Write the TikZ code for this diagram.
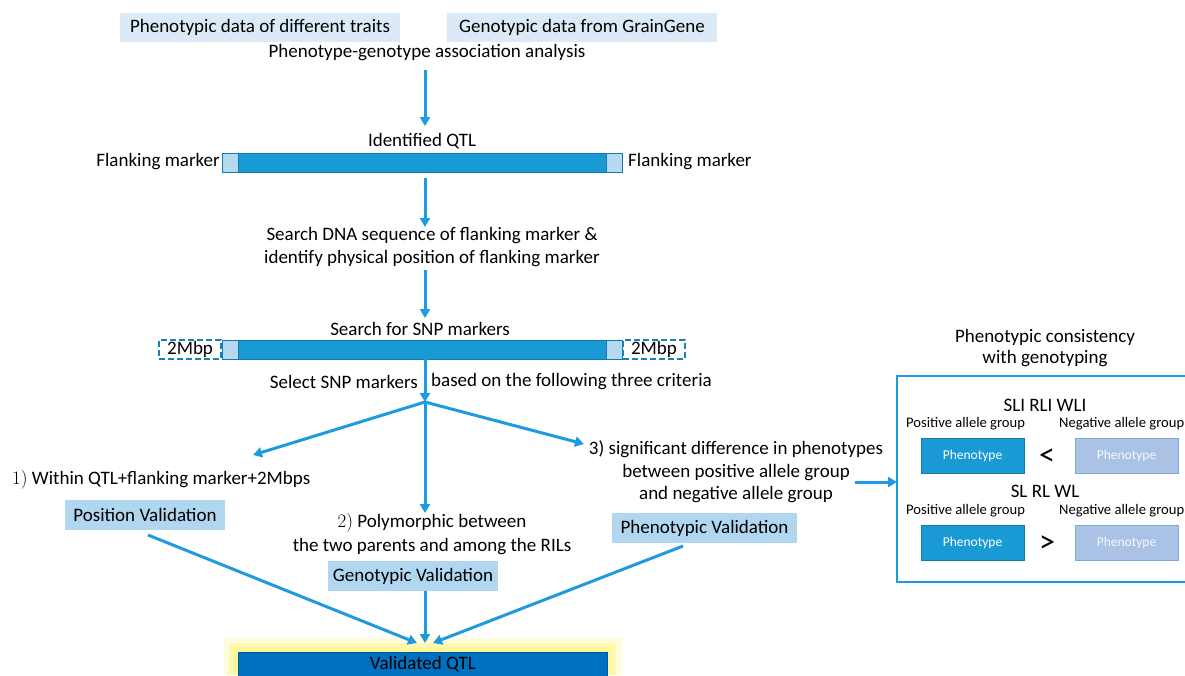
\documentclass[tikz,border=0pt]{standalone}
\usepackage{fontspec}
\setmainfont{Carlito}
\usetikzlibrary{arrows.meta}
\definecolor{arr}{HTML}{1E9BE0}
\definecolor{barblue}{HTML}{1A9AD5}
\definecolor{lightend}{HTML}{B4D9F0}
\definecolor{topfill}{HTML}{DCEAF7}
\definecolor{valfill}{HTML}{B0D7EF}
\definecolor{darkq}{HTML}{0070C0}
\definecolor{negfill}{HTML}{AAC2E6}
\definecolor{negborder}{HTML}{7FA6D9}
\definecolor{glow}{HTML}{FFF59A}
\tikzset{
  txt/.style={font=\fontsize{19}{22}\selectfont, inner sep=0pt},
  small/.style={font=\fontsize{14.6}{17}\selectfont, inner sep=0pt},
  topbox/.style={fill=topfill, draw=none, inner sep=0pt, minimum height=29pt, font=\fontsize{19}{22}\selectfont},
  valbox/.style={fill=valfill, draw=none, inner sep=0pt, minimum height=30pt, font=\fontsize{19}{22}\selectfont},
  flow/.style={draw=arr, line width=3pt, -{Triangle[length=9pt,width=10pt]}},
  posbox/.style={fill=barblue, draw=barblue!80!black, line width=0.6pt, minimum width=103pt, minimum height=35pt, text=white, font=\fontsize{13.5}{14}\selectfont},
  negbox/.style={fill=negfill, draw=negborder, line width=1pt, minimum width=103pt, minimum height=35pt, text=white!90!negfill, font=\fontsize{13.5}{14}\selectfont},
  dashbox/.style={draw=barblue!85!black, dashed, dash pattern=on 6pt off 3pt, line width=1.3pt, inner sep=0pt, minimum width=62pt, minimum height=19pt, font=\fontsize{19}{22}\selectfont},
}
\begin{document}
\begin{tikzpicture}[x=1pt,y=-1pt]
\useasboundingbox (0,0) rectangle (1185,675);
% top boxes
\node[topbox, minimum width=280pt] (pheno) at (260,27.5) {Phenotypic data of different traits};
\node[topbox, minimum width=270pt] (geno) at (582,27.5) {Genotypic data from GrainGene};
\node[txt] (assoc) at (427,53) {Phenotype-genotype association analysis};
\coordinate (a1s) at (425,70);
\coordinate (a1e) at (425,126);
\draw[flow] (a1s) -- (a1e);
% identified QTL
\node[txt] (idq) at (422,141) {Identified QTL};
\node[fill=barblue, draw=barblue!80!black, line width=0.6pt, minimum width=400pt, minimum height=19pt, inner sep=0pt] (bar1) at (422,162.5) {};
\node[fill=lightend, draw=barblue!80!black, line width=0.6pt, minimum width=16pt, minimum height=19pt, inner sep=0pt, anchor=west] (b1l) at (bar1.west) {};
\node[fill=lightend, draw=barblue!80!black, line width=0.6pt, minimum width=16pt, minimum height=19pt, inner sep=0pt, anchor=east] (b1r) at (bar1.east) {};
\node[txt, anchor=east] (fl) at (220,162) {Flanking marker};
\node[txt, anchor=west] (fr) at (628,162) {Flanking marker};
\coordinate (a2s) at (425,178);
\coordinate (a2e) at (425,227);
\draw[flow] (a2s) -- (a2e);
\node[txt, align=center, font=\fontsize{19}{23}\selectfont] (search) at (432,247.5) {Search DNA sequence of flanking marker \&\\identify physical position of flanking marker};
\coordinate (a3s) at (425,270);
\coordinate (a3e) at (425,318);
\draw[flow] (a3s) -- (a3e);
% SNP bar
\node[txt] (snp) at (420,329) {Search for SNP markers};
\node[fill=barblue, draw=barblue!80!black, line width=0.6pt, minimum width=400pt, minimum height=19pt, inner sep=0pt] (bar2) at (422,349.5) {};
\node[fill=lightend, draw=barblue!80!black, line width=0.6pt, minimum width=16pt, minimum height=19pt, inner sep=0pt, anchor=west] (b2l) at (bar2.west) {};
\node[fill=lightend, draw=barblue!80!black, line width=0.6pt, minimum width=16pt, minimum height=19pt, inner sep=0pt, anchor=east] (b2r) at (bar2.east) {};
\node[dashbox, anchor=east] (mbl) at (bar2.west) {2Mbp};
\node[dashbox, anchor=west] (mbr) at (bar2.east) {2Mbp};
\node[txt, anchor=east] (sel) at (418,382) {Select SNP markers};
\node[txt, anchor=west] (based) at (431,382) {based on the following three criteria};
\coordinate (split) at (425,402);
\draw[flow] (bar2.south -| split) -- (split);
% three criteria
\node[txt, anchor=west] (c1) at (12,480) {{\fontspec{Latin Modern Roman}1)} Within QTL+flanking marker+2Mbps};
\node[valbox, minimum width=160pt] (posv) at (145,515) {Position Validation};
\node[txt, align=center, font=\fontsize{19}{24}\selectfont] (c2) at (432,534) {{\fontspec{Latin Modern Roman}2)} Polymorphic between\\the two parents and among the RILs};
\node[valbox, minimum width=170pt] (genv) at (413,576) {Genotypic Validation};
\node[txt, align=center, font=\fontsize{19}{22.5}\selectfont] (c3) at (736,472) {3) significant difference in phenotypes\\between positive allele group\\and negative allele group};
\node[valbox, minimum width=185pt] (phev) at (704.5,528) {Phenotypic Validation};
\coordinate (e1) at (253,455);
\coordinate (e2) at (425,513);
\coordinate (e3) at (584,444);
\draw[flow] (split) -- (e1);
\draw[flow] (split) -- (e2);
\draw[flow] (split) -- (e3);
% validated QTL
\fill[glow, opacity=0.35] (224,638) rectangle (622,675);
\fill[glow, opacity=0.6] (229,643) rectangle (616,675);
\fill[glow] (233,647) rectangle (612,675);
\node[fill=darkq, draw=darkq!80!black, line width=0.6pt, minimum width=369pt, minimum height=24pt, inner sep=0pt, anchor=north west, font=\fontsize{19}{22}\selectfont] (valq) at (238,652) {\raisebox{-2pt}{Validated QTL}};
\coordinate (v1) at (417,643);
\coordinate (v2) at (425,643);
\coordinate (v3) at (433,643);
\coordinate (pv) at (148,535);
\coordinate (phv) at (683,546);
\draw[flow] (pv) -- (v1);
\draw[flow] (genv.south -| v2) -- (v2);
\draw[flow] (phv) -- (v3);
% right panel
\node[txt, align=center, font=\fontsize{19}{21}\selectfont] (ptitle) at (1045,348.5) {Phenotypic consistency\\with genotyping};
\draw[draw=arr, line width=2.4pt] (1195,376) -- (897,376) -- (897,582) -- (1195,582);
\coordinate (panelw) at (897,482);
\coordinate (c3e) at (855,482);
\draw[flow] (c3e) -- (panelw);
\node[txt] (g1) at (1045,405) {SLI RLI WLI};
\node[small, anchor=west] (p1) at (906,424) {Positive allele group};
\node[small, anchor=west] (n1) at (1059,424) {Negative allele group};
\node[posbox] (pb1) at (972.5,455.5) {Phenotype};
\node[negbox] (nb1) at (1126.5,455.5) {Phenotype};
\node[font=\fontsize{32}{32}\selectfont, inner sep=0pt] (lt) at (1047,457) {<};
\node[txt] (g2) at (1045,491) {SL RL WL};
\node[small, anchor=west] (p2) at (906,511) {Positive allele group};
\node[small, anchor=west] (n2) at (1059,511) {Negative allele group};
\node[posbox] (pb2) at (972.5,542.5) {Phenotype};
\node[negbox] (nb2) at (1126.5,542.5) {Phenotype};
\node[font=\fontsize{32}{32}\selectfont, inner sep=0pt] (gt) at (1047,544) {>};
\end{tikzpicture}
\end{document}
